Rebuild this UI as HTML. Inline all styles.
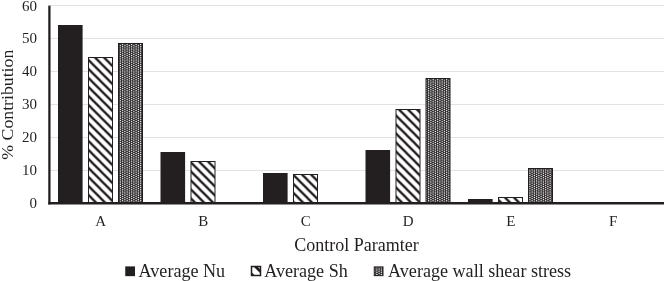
<!DOCTYPE html>
<html><head><meta charset="utf-8"><title>Chart</title>
<style>html,body{margin:0;padding:0;background:#fff;}body{width:664px;height:281px;overflow:hidden;}svg{display:block;position:absolute;left:0;top:0;}text{font-family:"Liberation Serif",serif;fill:#231f20;}svg{will-change:transform;}</style>
</head><body>
<svg width="664" height="281" viewBox="0 0 664 281">
<defs>
<pattern id="hatch" patternUnits="userSpaceOnUse" width="9" height="9" patternTransform="translate(1.5,0)"><rect width="9" height="9" fill="#fff"/><path d="M-4.5,-4.5 L13.5,13.5 M-4.5,4.5 L4.5,13.5 M4.5,-4.5 L13.5,4.5" stroke="#231f20" stroke-width="2.3" fill="none"/></pattern>
<pattern id="dots" patternUnits="userSpaceOnUse" width="9" height="11"><rect width="9" height="11" fill="#332f30"/><circle cx="-1.125" cy="-0.550" r="0.7" fill="#f2f2f2"/><circle cx="3.375" cy="-0.550" r="0.7" fill="#f2f2f2"/><circle cx="7.875" cy="-0.550" r="0.7" fill="#f2f2f2"/><circle cx="12.375" cy="-0.550" r="0.7" fill="#f2f2f2"/><circle cx="-3.375" cy="0.550" r="0.7" fill="#f2f2f2"/><circle cx="1.125" cy="0.550" r="0.7" fill="#f2f2f2"/><circle cx="5.625" cy="0.550" r="0.7" fill="#f2f2f2"/><circle cx="10.125" cy="0.550" r="0.7" fill="#f2f2f2"/><circle cx="-1.125" cy="1.650" r="0.7" fill="#f2f2f2"/><circle cx="3.375" cy="1.650" r="0.7" fill="#f2f2f2"/><circle cx="7.875" cy="1.650" r="0.7" fill="#f2f2f2"/><circle cx="12.375" cy="1.650" r="0.7" fill="#f2f2f2"/><circle cx="-3.375" cy="2.750" r="0.7" fill="#f2f2f2"/><circle cx="1.125" cy="2.750" r="0.7" fill="#f2f2f2"/><circle cx="5.625" cy="2.750" r="0.7" fill="#f2f2f2"/><circle cx="10.125" cy="2.750" r="0.7" fill="#f2f2f2"/><circle cx="-1.125" cy="3.850" r="0.7" fill="#f2f2f2"/><circle cx="3.375" cy="3.850" r="0.7" fill="#f2f2f2"/><circle cx="7.875" cy="3.850" r="0.7" fill="#f2f2f2"/><circle cx="12.375" cy="3.850" r="0.7" fill="#f2f2f2"/><circle cx="-3.375" cy="4.950" r="0.7" fill="#f2f2f2"/><circle cx="1.125" cy="4.950" r="0.7" fill="#f2f2f2"/><circle cx="5.625" cy="4.950" r="0.7" fill="#f2f2f2"/><circle cx="10.125" cy="4.950" r="0.7" fill="#f2f2f2"/><circle cx="-1.125" cy="6.050" r="0.7" fill="#f2f2f2"/><circle cx="3.375" cy="6.050" r="0.7" fill="#f2f2f2"/><circle cx="7.875" cy="6.050" r="0.7" fill="#f2f2f2"/><circle cx="12.375" cy="6.050" r="0.7" fill="#f2f2f2"/><circle cx="-3.375" cy="7.150" r="0.7" fill="#f2f2f2"/><circle cx="1.125" cy="7.150" r="0.7" fill="#f2f2f2"/><circle cx="5.625" cy="7.150" r="0.7" fill="#f2f2f2"/><circle cx="10.125" cy="7.150" r="0.7" fill="#f2f2f2"/><circle cx="-1.125" cy="8.250" r="0.7" fill="#f2f2f2"/><circle cx="3.375" cy="8.250" r="0.7" fill="#f2f2f2"/><circle cx="7.875" cy="8.250" r="0.7" fill="#f2f2f2"/><circle cx="12.375" cy="8.250" r="0.7" fill="#f2f2f2"/><circle cx="-3.375" cy="9.350" r="0.7" fill="#f2f2f2"/><circle cx="1.125" cy="9.350" r="0.7" fill="#f2f2f2"/><circle cx="5.625" cy="9.350" r="0.7" fill="#f2f2f2"/><circle cx="10.125" cy="9.350" r="0.7" fill="#f2f2f2"/><circle cx="-1.125" cy="10.450" r="0.7" fill="#f2f2f2"/><circle cx="3.375" cy="10.450" r="0.7" fill="#f2f2f2"/><circle cx="7.875" cy="10.450" r="0.7" fill="#f2f2f2"/><circle cx="12.375" cy="10.450" r="0.7" fill="#f2f2f2"/><circle cx="-3.375" cy="11.550" r="0.7" fill="#f2f2f2"/><circle cx="1.125" cy="11.550" r="0.7" fill="#f2f2f2"/><circle cx="5.625" cy="11.550" r="0.7" fill="#f2f2f2"/><circle cx="10.125" cy="11.550" r="0.7" fill="#f2f2f2"/></pattern>
</defs>
<rect width="664" height="281" fill="#fff"/>
<line x1="50" x2="664" y1="170.50" y2="170.50" stroke="#e2e2e2" stroke-width="1"/>
<line x1="50" x2="664" y1="137.50" y2="137.50" stroke="#e2e2e2" stroke-width="1"/>
<line x1="50" x2="664" y1="104.50" y2="104.50" stroke="#e2e2e2" stroke-width="1"/>
<line x1="50" x2="664" y1="71.50" y2="71.50" stroke="#e2e2e2" stroke-width="1"/>
<line x1="50" x2="664" y1="38.50" y2="38.50" stroke="#e2e2e2" stroke-width="1"/>
<line x1="50" x2="664" y1="5.50" y2="5.50" stroke="#e2e2e2" stroke-width="1"/>
<rect x="58.00" y="25.00" width="24.6" height="178.00" fill="#231f20"/>
<rect x="88.50" y="57.50" width="24" height="145.50" fill="url(#hatch)" stroke="#231f20" stroke-width="1"/>
<rect x="118.50" y="43.50" width="24" height="159.50" fill="url(#dots)" stroke="#231f20" stroke-width="1"/>
<rect x="160.50" y="152.00" width="24.6" height="51.00" fill="#231f20"/>
<rect x="191.00" y="161.50" width="24" height="41.50" fill="url(#hatch)" stroke="#231f20" stroke-width="1"/>
<rect x="263.00" y="173.00" width="24.6" height="30.00" fill="#231f20"/>
<rect x="293.50" y="174.50" width="24" height="28.50" fill="url(#hatch)" stroke="#231f20" stroke-width="1"/>
<rect x="365.50" y="150.00" width="24.6" height="53.00" fill="#231f20"/>
<rect x="396.00" y="109.50" width="24" height="93.50" fill="url(#hatch)" stroke="#231f20" stroke-width="1"/>
<rect x="426.00" y="78.50" width="24" height="124.50" fill="url(#dots)" stroke="#231f20" stroke-width="1"/>
<rect x="468.00" y="199.00" width="24.6" height="4.00" fill="#231f20"/>
<rect x="498.50" y="197.50" width="24" height="5.50" fill="url(#hatch)" stroke="#231f20" stroke-width="1"/>
<rect x="528.50" y="168.50" width="24" height="34.50" fill="url(#dots)" stroke="#231f20" stroke-width="1"/>
<line x1="49.4" x2="49.4" y1="5.6" y2="204.4" stroke="#231f20" stroke-width="2.3"/>
<line x1="48.3" x2="664" y1="203.25" y2="203.25" stroke="#231f20" stroke-width="2.3"/>
<text x="37" y="208.40" font-size="15" text-anchor="end">0</text>
<text x="37" y="175.40" font-size="15" text-anchor="end">10</text>
<text x="37" y="142.40" font-size="15" text-anchor="end">20</text>
<text x="37" y="109.40" font-size="15" text-anchor="end">30</text>
<text x="37" y="76.40" font-size="15" text-anchor="end">40</text>
<text x="37" y="43.40" font-size="15" text-anchor="end">50</text>
<text x="37" y="10.90" font-size="15" text-anchor="end">60</text>
<text x="100.75" y="225.75" font-size="15" text-anchor="middle">A</text>
<text x="203.25" y="225.75" font-size="15" text-anchor="middle">B</text>
<text x="305.75" y="225.75" font-size="15" text-anchor="middle">C</text>
<text x="408.25" y="225.75" font-size="15" text-anchor="middle">D</text>
<text x="510.75" y="225.75" font-size="15" text-anchor="middle">E</text>
<text x="613.25" y="225.75" font-size="15" text-anchor="middle">F</text>
<text x="356.6" y="250.5" font-size="18" text-anchor="middle">Control Paramter</text>
<text transform="translate(12.9,104.7) rotate(-90)" font-size="17.75" text-anchor="middle">% Contribution</text>
<rect x="125.25" y="266.4" width="9.75" height="9.75" fill="#231f20"/>
<text x="138.6" y="277" font-size="18.1">Average Nu</text>
<clipPath id="lc"><rect x="251.5" y="266.5" width="9" height="9"/></clipPath>
<rect x="251.5" y="266.5" width="9" height="9" fill="#fff"/>
<g clip-path="url(#lc)" stroke="#231f20" stroke-width="2.8" fill="none"><path d="M250,261.1 L266,277.1"/><path d="M246,268.6 L260,282.6"/></g>
<rect x="251.5" y="266.5" width="9" height="9" fill="none" stroke="#231f20" stroke-width="1.5"/>
<text x="264.2" y="277" font-size="18.1">Average Sh</text>
<rect x="374.25" y="266.9" width="8.75" height="8.75" fill="url(#dots)" stroke="#231f20" stroke-width="1"/>
<text x="388.1" y="277" font-size="18.1">Average wall shear stress</text>
</svg></body></html>
